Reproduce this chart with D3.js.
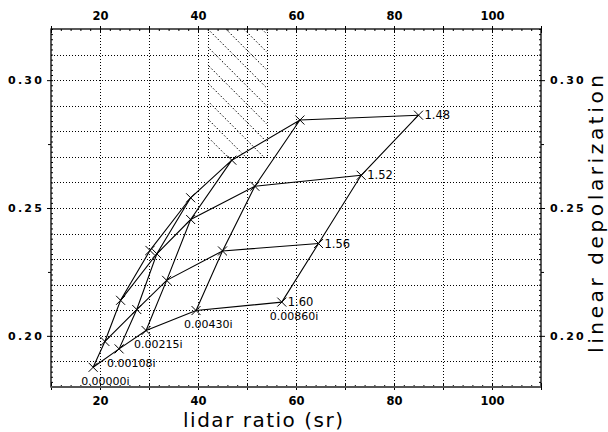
<!DOCTYPE html>
<html>
<head>
<script src="https://d3js.org/d3.v7.min.js"></script>
<style>
  body { margin: 0; background: #fff; }
  text { font-family: "DejaVu Sans", sans-serif; fill: #000; }
</style>
</head>
<body>
<script>
  // real part of refractive index (rows) and imaginary part (columns)
  var realParts = ["1.48", "1.52", "1.56", "1.60"];
  var imagParts = ["0.00000i", "0.00108i", "0.00215i", "0.00430i", "0.00860i"];

  // lidar ratio (sr), one row per real part, one column per imaginary part
  var lidarRatio = [
    [30.2, 38.5, 46.9, 60.8, 85.0],
    [24.2, 31.6, 38.5, 51.6, 73.3],
    [21.0, 27.5, 33.6, 45.0, 64.6],
    [18.6, 23.9, 29.4, 39.6, 57.1]
  ];
  // linear depolarization
  var depol = [
    [0.2334, 0.2540, 0.2687, 0.2844, 0.2863],
    [0.2139, 0.2321, 0.2455, 0.2585, 0.2628],
    [0.1978, 0.2103, 0.2217, 0.2332, 0.2361],
    [0.1877, 0.1949, 0.2021, 0.2099, 0.2132]
  ];

  // observed range box
  var boxLidar = [42, 54];
  var boxDepol = [0.27, 0.32];

  var xTicks = [20, 40, 60, 80, 100];
  var yTicks = [0.20, 0.25, 0.30];

  var width = 608, height = 432;
  var x = d3.scaleLinear().domain([10, 110]).range([51, 541]);
  var y = d3.scaleLinear().domain([0.18, 0.32]).range([387, 29]);

  var svg = d3.select("body").append("svg")
    .attr("width", width)
    .attr("height", height);

  // grid
  var grid = svg.append("g")
    .attr("stroke", "#000")
    .attr("stroke-width", 1)
    .attr("stroke-dasharray", "1,2");
  grid.selectAll("line.v")
    .data(d3.range(20, 101, 10))
    .enter().append("line")
    .attr("x1", function(d) { return Math.round(x(d)) + 0.5; })
    .attr("x2", function(d) { return Math.round(x(d)) + 0.5; })
    .attr("y1", y(0.32))
    .attr("y2", y(0.18));
  grid.selectAll("line.h")
    .data(d3.range(19, 32).map(function(d) { return d / 100; }))
    .enter().append("line")
    .attr("y1", function(d) { return Math.round(y(d)) + 0.5; })
    .attr("y2", function(d) { return Math.round(y(d)) + 0.5; })
    .attr("x1", x(10))
    .attr("x2", x(110));

  // hatched box
  var bx0 = x(boxLidar[0]), bx1 = x(boxLidar[1]);
  var by0 = y(boxDepol[1]), by1 = y(boxDepol[0]);
  svg.append("clipPath").attr("id", "boxclip")
    .append("rect")
    .attr("x", bx0).attr("y", by0)
    .attr("width", bx1 - bx0).attr("height", by1 - by0);
  var hatch = svg.append("g")
    .attr("clip-path", "url(#boxclip)")
    .attr("stroke", "#000")
    .attr("stroke-width", 1)
    .attr("stroke-dasharray", "1.5,2");
  hatch.selectAll("line")
    .data(d3.range(-20, 9))
    .enter().append("line")
    .attr("x1", function(d) { return bx0 + d * 18; })
    .attr("y1", by0)
    .attr("x2", function(d) { return bx0 + d * 18 + (by1 - by0); })
    .attr("y2", by1);
  svg.append("path")
    .attr("d", "M" + (Math.round(bx0) + 0.5) + "," + by0 + "V" + (Math.round(by1) + 0.5) +
      "H" + (Math.round(bx1) + 0.5) + "V" + by0)
    .attr("fill", "none")
    .attr("stroke", "#000")
    .attr("stroke-dasharray", "1,2");

  // axes
  function styleAxis(g) {
    g.select(".domain").remove();
    g.selectAll("line").attr("stroke", "#000");
  }
  function tickLabels(g, size) {
    g.selectAll("text")
      .style("font-size", size + "px")
      .style("font-weight", "bold")
      .style("font-family", "'DejaVu Sans', sans-serif");
  }

  var minorX = d3.range(10, 111, 2);
  var midX = d3.range(10, 111, 10);
  var minorY = d3.range(180, 321, 2).map(function(d) { return d / 1000; });
  var midY = [0.225, 0.275];

  // bottom
  svg.append("g").attr("transform", "translate(0," + y(0.18) + ")")
    .call(d3.axisTop(x).tickValues(minorX).tickSize(2).tickFormat(""))
    .call(styleAxis);
  svg.append("g").attr("transform", "translate(0," + (y(0.18) - 4) + ")")
    .call(d3.axisBottom(x).tickValues(midX).tickSize(7).tickFormat(""))
    .call(styleAxis);
  svg.append("g").attr("transform", "translate(0," + y(0.18) + ")")
    .call(d3.axisBottom(x).tickValues(xTicks).tickSize(3).tickPadding(7).tickFormat(d3.format("d")))
    .call(styleAxis)
    .call(tickLabels, 11.5);

  // top
  svg.append("g").attr("transform", "translate(0," + y(0.32) + ")")
    .call(d3.axisBottom(x).tickValues(minorX).tickSize(2).tickFormat(""))
    .call(styleAxis);
  svg.append("g").attr("transform", "translate(0," + (y(0.32) + 4) + ")")
    .call(d3.axisTop(x).tickValues(midX).tickSize(7).tickFormat(""))
    .call(styleAxis);
  svg.append("g").attr("transform", "translate(0," + y(0.32) + ")")
    .call(d3.axisTop(x).tickValues(xTicks).tickSize(3).tickPadding(6).tickFormat(d3.format("d")))
    .call(styleAxis)
    .call(tickLabels, 11.5);

  // left
  svg.append("g").attr("transform", "translate(" + x(10) + ",0)")
    .call(d3.axisRight(y).tickValues(minorY).tickSize(2).tickFormat(""))
    .call(styleAxis);
  svg.append("g").attr("transform", "translate(" + x(10) + ",0)")
    .call(d3.axisLeft(y).tickValues(midY).tickSize(3).tickFormat(""))
    .call(styleAxis);
  svg.append("g").attr("transform", "translate(" + x(10) + ",0)")
    .call(d3.axisLeft(y).tickValues(yTicks).tickSize(4).tickPadding(3).tickFormat(d3.format(".2f")))
    .call(styleAxis)
    .call(tickLabels, 11)
    .selectAll("text").attr("letter-spacing", "2.2px");

  // right
  svg.append("g").attr("transform", "translate(" + x(110) + ",0)")
    .call(d3.axisLeft(y).tickValues(minorY).tickSize(2).tickFormat(""))
    .call(styleAxis);
  svg.append("g").attr("transform", "translate(" + x(110) + ",0)")
    .call(d3.axisRight(y).tickValues(midY).tickSize(3).tickFormat(""))
    .call(styleAxis);
  svg.append("g").attr("transform", "translate(" + x(110) + ",0)")
    .call(d3.axisRight(y).tickValues(yTicks).tickSize(4).tickPadding(5).tickFormat(d3.format(".2f")))
    .call(styleAxis)
    .call(tickLabels, 11)
    .selectAll("text").attr("letter-spacing", "2.2px");

  // frame
  svg.append("rect")
    .attr("x", x(10)).attr("y", y(0.32))
    .attr("width", x(110) - x(10)).attr("height", y(0.18) - y(0.32))
    .attr("fill", "none").attr("stroke", "#000").attr("stroke-width", 1.3);
  svg.append("line")
    .attr("x1", x(10)).attr("x2", x(110))
    .attr("y1", y(0.18)).attr("y2", y(0.18))
    .attr("stroke", "#555").attr("stroke-width", 2);

  // curves of constant real part and constant imaginary part
  var line = d3.line()
    .x(function(d) { return x(d[0]); })
    .y(function(d) { return y(d[1]); });

  var rows = realParts.map(function(r, i) {
    return lidarRatio[i].map(function(v, j) { return [v, depol[i][j]]; });
  });
  var cols = imagParts.map(function(m, j) {
    return realParts.map(function(r, i) { return [lidarRatio[i][j], depol[i][j]]; });
  });

  var curves = svg.append("g")
    .attr("fill", "none")
    .attr("stroke", "#000")
    .attr("stroke-width", 1.1);
  curves.selectAll("path.row")
    .data(rows).enter().append("path")
    .attr("d", line);
  curves.selectAll("path.col")
    .data(cols).enter().append("path")
    .attr("d", line);

  // X markers
  var pts = [];
  rows.forEach(function(r, i) {
    r.forEach(function(p, j) { pts.push({ p: p, i: i, j: j }); });
  });
  var s = 4.5;
  svg.append("g")
    .attr("stroke", "#000").attr("stroke-width", 1)
    .selectAll("path")
    .data(pts).enter().append("path")
    .attr("d", function(d) {
      var cx = x(d.p[0]), cy = y(d.p[1]);
      return "M" + (cx - s) + "," + (cy - s) + "L" + (cx + s) + "," + (cy + s) +
        "M" + (cx - s) + "," + (cy + s) + "L" + (cx + s) + "," + (cy - s);
    });

  // labels for real part (at right end of each row)
  svg.append("g").selectAll("text")
    .data(realParts).enter().append("text")
    .attr("x", function(d, i) { return x(lidarRatio[i][4]) + 6; })
    .attr("y", function(d, i) { return y(depol[i][4]); })
    .attr("dy", "0.35em")
    .style("font-size", "11.5px")
    .text(function(d) { return d; });

  // labels for imaginary part (below bottom row)
  svg.append("g").selectAll("text")
    .data(imagParts).enter().append("text")
    .attr("x", function(d, j) { return x(lidarRatio[3][j]) - 12; })
    .attr("y", function(d, j) { return y(depol[3][j]) + 14; })
    .attr("dy", "0.35em")
    .style("font-size", "11px")
    .text(function(d) { return d; });

  // axis titles
  svg.append("text")
    .attr("x", 263).attr("y", 427)
    .attr("text-anchor", "middle")
    .attr("textLength", 160)
    .attr("lengthAdjust", "spacing")
    .style("font-size", "20px")
    .text("lidar ratio (sr)");

  svg.append("text")
    .attr("transform", "translate(603,214) rotate(-90)")
    .attr("text-anchor", "middle")
    .attr("textLength", 278)
    .attr("lengthAdjust", "spacing")
    .style("font-size", "20px")
    .text("linear depolarization");
</script>
</body>
</html>
